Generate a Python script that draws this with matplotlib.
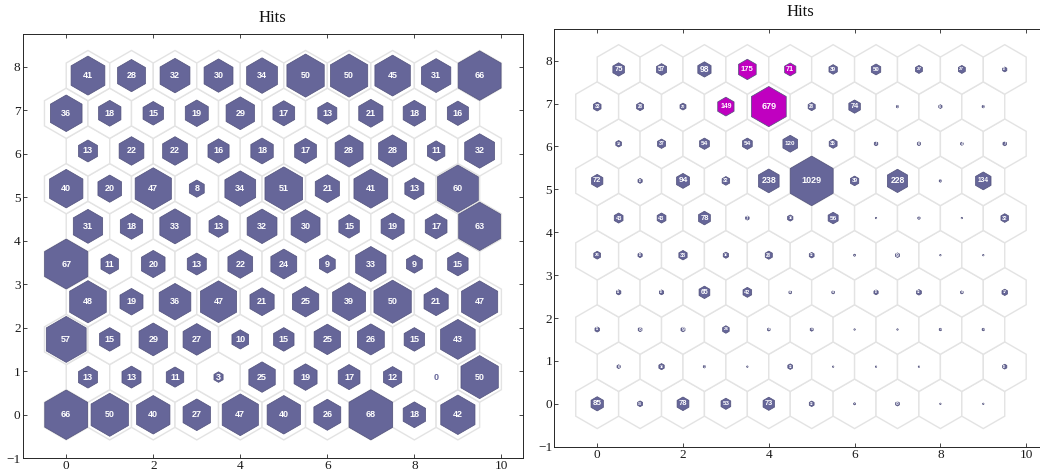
import numpy as np
import matplotlib
matplotlib.use("Agg")
import matplotlib.pyplot as plt
from matplotlib.patches import Polygon

# ---- data (rows from bottom, row 0 at y=0; odd rows shifted by 0.5) ----
left_hits = [
    [66, 50, 40, 27, 47, 40, 26, 68, 18, 42],
    [13, 13, 11, 3, 25, 19, 17, 12, 0, 50],
    [57, 15, 29, 27, 10, 15, 25, 26, 15, 43],
    [48, 19, 36, 47, 21, 25, 39, 50, 21, 47],
    [67, 11, 20, 13, 22, 24, 9, 33, 9, 15],
    [31, 18, 33, 13, 32, 30, 15, 19, 17, 63],
    [40, 20, 47, 8, 34, 51, 21, 41, 13, 60],
    [13, 22, 22, 16, 18, 17, 28, 28, 11, 32],
    [36, 18, 15, 19, 29, 17, 13, 21, 18, 16],
    [41, 28, 32, 30, 34, 50, 50, 45, 31, 66],
]
right_hits = [
    [85, 14, 78, 53, 73, 13, 2, 8, 1, 1],
    [6, 16, 3, 1, 13, 1, 1, 1, 0, 10],
    [11, 8, 9, 24, 4, 5, 1, 1, 3, 3],
    [11, 10, 65, 42, 4, 4, 10, 13, 4, 17],
    [26, 10, 38, 16, 28, 13, 2, 9, 1, 1],
    [43, 43, 78, 7, 16, 56, 1, 3, 1, 32],
    [72, 10, 94, 32, 238, 1029, 39, 228, 3, 134],
    [18, 37, 54, 54, 120, 35, 7, 6, 4, 7],
    [33, 28, 20, 149, 679, 28, 74, 3, 6, 3],
    [75, 57, 98, 175, 71, 39, 50, 27, 27, 10],
]
right_highlight = [(9, 3), (9, 4), (8, 3), (8, 4)]  # (row, col)

titles = ["Hits", "Hits"]
xticks = [0, 2, 4, 6, 8, 10]
yticks = list(range(-1, 9))

FILL = "#666699"
HILITE = "#c000c0"
GRID_EDGE = "#e3e3e3"
W, H = 1040, 472


def hexagon(cx, cy, s):
    r = s / np.sqrt(3)
    ang = np.deg2rad(np.arange(90, 450, 60))
    return np.column_stack([cx + r * np.cos(ang), cy + r * np.sin(ang)])


def draw(ax, hits, highlight, show_zero, px_per_unit):
    hits = np.array(hits, dtype=float)
    mx = hits.max()
    nrows, ncols = hits.shape
    for j in range(nrows):
        for i in range(ncols):
            cx = i + 0.5 * (j % 2)
            cy = j * np.sqrt(3) / 2
            ax.add_patch(Polygon(hexagon(cx, cy, 1.0), closed=True,
                                 facecolor="white", edgecolor=GRID_EDGE,
                                 linewidth=1.0, zorder=1))
    for j in range(nrows):
        for i in range(ncols):
            cx = i + 0.5 * (j % 2)
            cy = j * np.sqrt(3) / 2
            h = hits[j, i]
            s = np.sqrt(h / mx)
            color = HILITE if (j, i) in highlight else FILL
            label = str(int(h))
            if h > 0:
                ax.add_patch(Polygon(hexagon(cx, cy, s), closed=True,
                                     facecolor=color, edgecolor="#50507a",
                                     linewidth=0.5, zorder=2))
                # font fits inside the hexagon
                width_px = 0.8 * s * px_per_unit
                fs = min(6.5, width_px * 0.72 / (0.62 * len(label)))
                ax.text(cx, cy, label, ha="center", va="center",
                        fontsize=fs, color="white", fontweight="bold",
                        family="Liberation Sans", zorder=3)
            elif show_zero:
                ax.text(cx, cy, label, ha="center", va="center",
                        fontsize=6.5, color=FILL, fontweight="bold",
                        family="Liberation Sans", zorder=3)


fig = plt.figure(figsize=(W / 100, H / 100), dpi=100)

configs = [
    # left px, top px, bottom px, x range, y range
    dict(l=22.7, t=34.0, b=458.3, xl=(-1, 10.5), yl=(-1, 8.75),
         hits=left_hits, hl=[], zero=True, title_y=18, title_x=272),
    dict(l=554.3, t=29.3, b=446.7, xl=(-1, 10.5), yl=(-1, 8.73),
         hits=right_hits, hl=right_highlight, zero=False, title_y=12,
         title_x=800),
]

for k, c in enumerate(configs):
    hpx = c["b"] - c["t"]
    ppu = hpx / (c["yl"][1] - c["yl"][0])
    wpx = ppu * (c["xl"][1] - c["xl"][0])
    ax = fig.add_axes([c["l"] / W, 1 - c["b"] / H, wpx / W, hpx / H])
    ax.set_xlim(*c["xl"])
    ax.set_ylim(*c["yl"])
    draw(ax, c["hits"], c["hl"], c["zero"], ppu)
    ax.set_xticks(xticks)
    ax.set_yticks(yticks)
    ax.tick_params(direction="in", length=3, width=0.6, top=True, right=True,
                   colors="#262626", labelsize=9.5, pad=1.5)
    for lab in ax.get_xticklabels() + ax.get_yticklabels():
        lab.set_family("Liberation Serif")
        lab.set_color("#1a1a1a")
    for sp in ax.spines.values():
        sp.set_color("#262626")
        sp.set_linewidth(0.7)
    fig.text(c["title_x"] / W, 1 - c["title_y"] / H, titles[k], ha="center",
             va="center", fontsize=12, family="Liberation Serif",
             color="#111111")

fig.savefig("out.png", dpi=100)
